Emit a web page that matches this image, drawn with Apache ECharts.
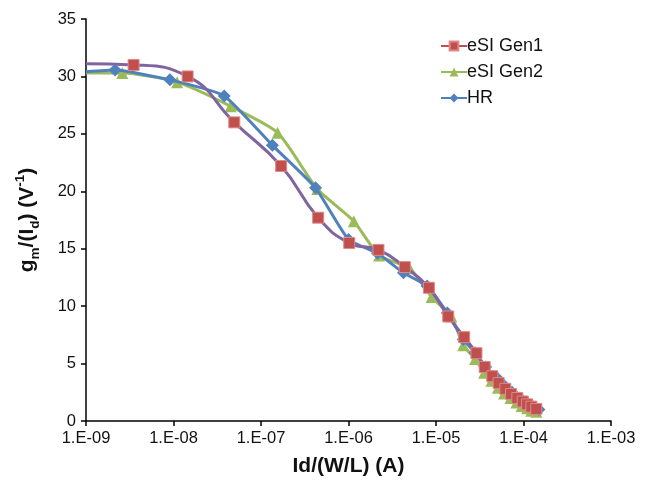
<!DOCTYPE html>
<html>
<head>
<meta charset="utf-8">
<script src="https://cdn.jsdelivr.net/npm/echarts@6/dist/echarts.min.js"></script>
<style>html,body{margin:0;padding:0;background:#fff}#c{width:650px;height:486px}</style>
</head>
<body>
<div id="c"></div>
<script>
// eSI Gen1 (x in A, y in V^-1); first point is the line start at the axis (no marker)
const gen1X = [1e-9, 3.5e-9, 1.45e-8, 4.95e-8, 1.7e-7, 4.5e-7, 1.02e-6, 2.2e-6, 4.4e-6, 8.3e-6, 1.38e-5, 2.1e-5, 2.9e-5, 3.6e-5, 4.4e-5, 5.2e-5, 6.2e-5, 7.2e-5, 8.5e-5, 9.8e-5, 1.1e-4, 1.23e-4, 1.4e-4];
const gen1Y = [31.1, 31.0, 30.0, 26.0, 22.2, 17.7, 15.5, 14.9, 13.4, 11.6, 9.1, 7.3, 5.9, 4.7, 3.9, 3.3, 2.8, 2.35, 2.0, 1.7, 1.45, 1.25, 1.05];
const gen2X = [1e-9, 2.6e-9, 1.1e-8, 4.5e-8, 1.55e-7, 4.4e-7, 1.15e-6, 2.24e-6, 5.0e-6, 8.9e-6, 1.5e-5, 2.05e-5, 2.8e-5, 3.55e-5, 4.3e-5, 5.1e-5, 6.0e-5, 7.1e-5, 8.3e-5, 9.5e-5, 1.1e-4, 1.23e-4, 1.4e-4];
const gen2Y = [30.3, 30.3, 29.5, 27.4, 25.1, 20.2, 17.4, 14.4, 13.3, 10.8, 9.1, 6.6, 5.4, 4.2, 3.5, 2.9, 2.4, 2.0, 1.6, 1.3, 1.1, 0.9, 0.8];
const hrX = [1e-9, 2.15e-9, 9.1e-9, 3.8e-8, 1.35e-7, 4.2e-7, 1.0e-6, 2.15e-6, 4.25e-6, 7.9e-6, 1.35e-5, 2.05e-5, 2.8e-5, 3.7e-5, 4.9e-5, 6.0e-5, 7.4e-5, 9.1e-5, 1.07e-4, 1.26e-4, 1.5e-4];
const hrY = [30.4, 30.55, 29.7, 28.3, 24.0, 20.3, 15.8, 14.6, 12.9, 11.75, 9.4, 7.1, 5.95, 4.7, 3.8, 3.1, 2.5, 2.0, 1.65, 1.3, 1.0];
const seriesNames = ['eSI Gen1', 'eSI Gen2', 'HR'];
const yTicks = {min: 0, max: 35, step: 5};
const xRange = {min: 1e-9, max: 1e-3};

function pts(xs, ys) {
  return xs.map((x, i) => i === 0 ? {value: [x, ys[i]], symbol: 'none'} : [x, ys[i]]);
}
const RED = '#C0504D', GREEN = '#9BBB59', BLUE = '#4F81BD', PURPLE = '#8064A2';
const FONT = '"Liberation Sans", Arial, sans-serif';

const chart = echarts.init(document.getElementById('c'), null, {renderer: 'canvas'});
chart.setOption({
  animation: false,
  backgroundColor: '#fff',
  grid: {left: 86, top: 19, width: 525, height: 402},
  legend: {
    orient: 'vertical', left: 435, top: 32, itemGap: 8, itemWidth: 26, itemHeight: 11,
    textStyle: {fontFamily: FONT, fontSize: 18, color: '#111', padding: [0, 0, 0, -5]},
    data: [
      {name: seriesNames[0], lineStyle: {color: RED}},
      {name: seriesNames[1]},
      {name: seriesNames[2]}
    ]
  },
  xAxis: {
    type: 'log', logBase: 10, min: xRange.min, max: xRange.max,
    name: 'Id/(W/L) (A)', nameLocation: 'middle', nameGap: 35,
    nameTextStyle: {fontFamily: FONT, fontSize: 21, fontWeight: 'bold', color: '#111'},
    axisLine: {lineStyle: {color: '#000', width: 1.5}},
    axisTick: {inside: false, length: 5, lineStyle: {color: '#000', width: 1.5}},
    minorTick: {show: false},
    splitLine: {show: false},
    axisLabel: {
      fontFamily: FONT, fontSize: 16.5, color: '#111', margin: 9,
      formatter: v => {
        const e = Math.round(Math.log10(v));
        return '1.E' + (e < 0 ? '-' : '+') + String(Math.abs(e)).padStart(2, '0');
      }
    }
  },
  yAxis: {
    type: 'value', min: yTicks.min, max: yTicks.max, interval: yTicks.step,
    name: '{b|g}{sub|m}{b|/(I}{sub|d}{b|) (V}{sup|-1}{b|)}',
    nameLocation: 'middle', nameGap: 44, nameRotate: 90,
    nameTextStyle: {
      fontFamily: FONT, fontSize: 21, fontWeight: 'bold', color: '#111',
      rich: {
        b: {fontFamily: FONT, fontSize: 21, fontWeight: 'bold', color: '#111', lineHeight: 29},
        sub: {fontFamily: FONT, fontSize: 13.5, fontWeight: 'bold', color: '#111', verticalAlign: 'bottom', lineHeight: 13},
        sup: {fontFamily: FONT, fontSize: 13.5, fontWeight: 'bold', color: '#111', verticalAlign: 'top', lineHeight: 13}
      }
    },
    axisLine: {show: true, lineStyle: {color: '#000', width: 1.5}},
    axisTick: {show: true, length: 5, lineStyle: {color: '#000', width: 1.5}},
    splitLine: {show: false},
    axisLabel: {fontFamily: FONT, fontSize: 16.5, color: '#111', margin: 10}
  },
  series: [
    {
      name: seriesNames[1], type: 'line', data: pts(gen2X, gen2Y), smooth: 0.2,
      symbol: 'triangle', symbolSize: 12,
      lineStyle: {color: GREEN, width: 3}, itemStyle: {color: GREEN}, z: 2
    },
    {
      name: seriesNames[2], type: 'line', data: pts(hrX, hrY), smooth: 0.15,
      symbol: 'diamond', symbolSize: 13,
      lineStyle: {color: BLUE, width: 3}, itemStyle: {color: BLUE}, z: 3
    },
    {
      name: seriesNames[0], type: 'line', data: pts(gen1X, gen1Y), smooth: 0.5,
      symbol: 'rect', symbolSize: 11,
      lineStyle: {color: PURPLE, width: 3}, itemStyle: {color: RED, borderColor: '#e08a88', borderWidth: 1}, z: 4
    }
  ]
});
</script>
</body>
</html>
